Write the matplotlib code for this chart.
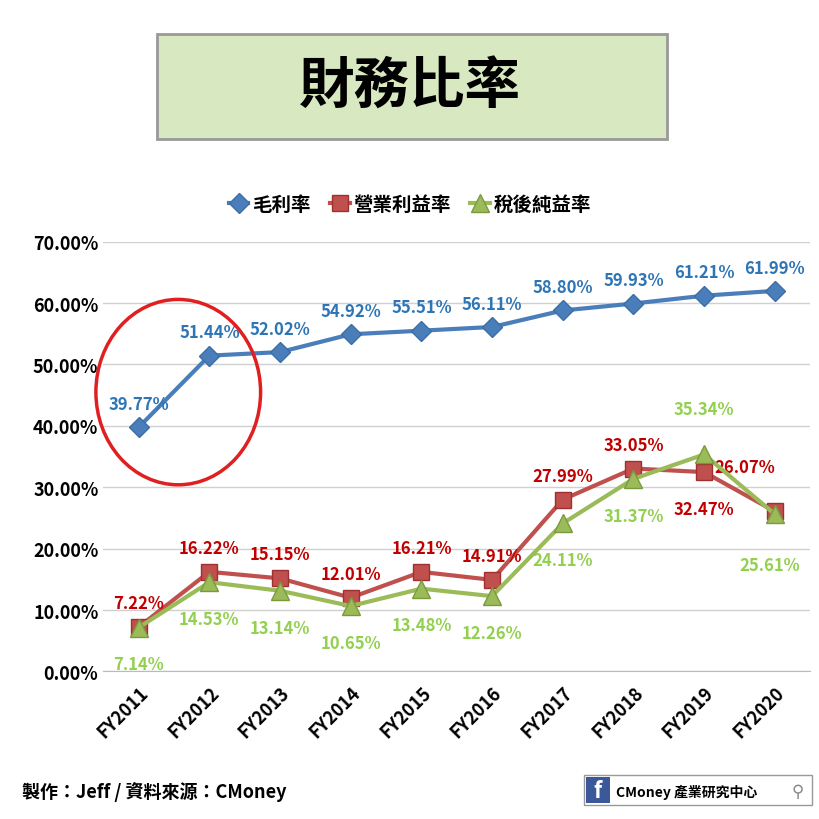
import matplotlib.pyplot as plt
from matplotlib.patches import Ellipse, FancyBboxPatch
from matplotlib.ticker import FuncFormatter

plt.rcParams['font.family'] = ['Noto Sans CJK TC', 'DejaVu Sans']
plt.rcParams['font.weight'] = 'bold'

years = ['FY2011', 'FY2012', 'FY2013', 'FY2014', 'FY2015',
         'FY2016', 'FY2017', 'FY2018', 'FY2019', 'FY2020']
gross = [39.77, 51.44, 52.02, 54.92, 55.51, 56.11, 58.80, 59.93, 61.21, 61.99]
oper = [7.22, 16.22, 15.15, 12.01, 16.21, 14.91, 27.99, 33.05, 32.47, 26.07]
net = [7.14, 14.53, 13.14, 10.65, 13.48, 12.26, 24.11, 31.37, 35.34, 25.61]

fig = plt.figure(figsize=(8.2, 8.2), dpi=100)
ax = fig.add_axes([0.126, 0.180, 0.862, 0.524])

x = list(range(len(years)))
ax.plot(x, gross, color='#4a7ebb', lw=3, marker='D', ms=10, mec='#3a6ea5', label='毛利率', zorder=3)
ax.plot(x, oper, color='#c0504d', lw=3, marker='s', ms=12, mec='#a03030', label='營業利益率', zorder=3)
ax.plot(x, net, color='#9bbb59', lw=3, marker='^', ms=13, mec='#7a9a40', label='稅後純益率', zorder=4)

ax.set_xlim(-0.5, 9.5)
ax.set_ylim(0, 70)
ax.set_yticks(range(0, 71, 10))
ax.yaxis.set_major_formatter(FuncFormatter(lambda v, p: f'{v:.2f}%'))
ax.set_xticks(x)
ax.set_xticklabels(years, rotation=45, ha='right', rotation_mode='anchor')
ax.tick_params(axis='both', labelsize=13, length=0)
ax.tick_params(axis='x', pad=8)
ax.grid(axis='y', color='#d0d0d0', lw=1)
for s in ['top', 'right', 'left']:
    ax.spines[s].set_visible(False)
ax.spines['bottom'].set_color('#bbbbbb')

blue_c, red_c, green_c = '#2e75b6', '#c00000', '#92d050'
for i, v in enumerate(gross):
    ax.text(i, v + 3.8, f'{v:.2f}%', color=blue_c,
            ha='center', va='center', fontsize=12, fontweight='bold')
for i, v in enumerate(oper):
    if i == 8:
        pos = (i, v - 6)
    elif i == 9:
        pos = (i - 0.43, v + 7.3)
    else:
        pos = (i, v + 3.9)
    ax.text(*pos, f'{v:.2f}%', color=red_c, ha='center', va='center', fontsize=12, fontweight='bold')
for i, v in enumerate(net):
    if i == 8:
        pos = (i, v + 7.4)
    elif i == 9:
        pos = (i - 0.07, v - 8.3)
    else:
        pos = (i, v - 6)
    ax.text(*pos, f'{v:.2f}%', color=green_c, ha='center', va='center', fontsize=12, fontweight='bold')

ax.add_patch(Ellipse((0.56, 45.5), 2.33, 30.2, fill=False, edgecolor='#e02020', lw=2.5, clip_on=False, zorder=5))

leg = fig.legend(loc='center', bbox_to_anchor=(0.5, 0.75), ncol=3, frameon=False,
                 fontsize=14, handlelength=1.0, handletextpad=0.2, columnspacing=1.0)

# title box
fig.patches.append(FancyBboxPatch((157 / 820, 1 - 140 / 820), 510 / 820, 105 / 820,
                                  boxstyle='square,pad=0', transform=fig.transFigure,
                                  facecolor='#d8e8c0', edgecolor='#999999', lw=2))
fig.text(0.5, 1 - 88 / 820, '財務比率', ha='center', va='center', fontsize=40, fontweight='bold')

fig.text(22 / 820, 1 - 792 / 820, '製作：Jeff / 資料來源：CMoney', ha='left', va='center',
         fontsize=13, fontweight='bold')
fig.patches.append(FancyBboxPatch((584 / 820, 1 - 806 / 820), 228 / 820, 30 / 820,
                                  boxstyle='square,pad=0', transform=fig.transFigure,
                                  facecolor='white', edgecolor='#999999', lw=1))
fig.patches.append(FancyBboxPatch((586 / 820, 1 - 804 / 820), 24 / 820, 26 / 820,
                                  boxstyle='square,pad=0', transform=fig.transFigure,
                                  facecolor='#3b5998', edgecolor='none'))
fig.text(598 / 820, 1 - 792 / 820, 'f', color='white', ha='center', va='center', fontsize=16, fontweight='bold')
fig.text(616 / 820, 1 - 792 / 820, 'CMoney 產業研究中心', ha='left', va='center', fontsize=10, fontweight='bold')
fig.text(798 / 820, 1 - 792 / 820, '⚲', ha='center', va='center', fontsize=12, color='#888888')

fig.savefig('out.png', dpi=100)
